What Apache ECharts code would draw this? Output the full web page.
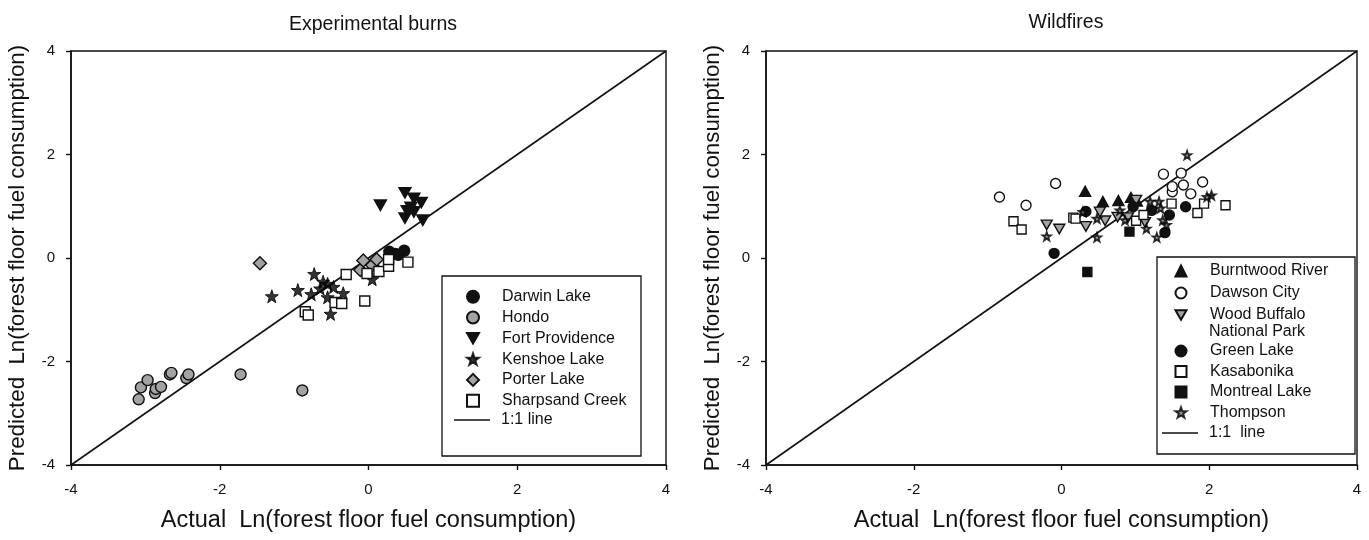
<!DOCTYPE html>
<html>
<head>
<meta charset="utf-8">
<script src="https://cdn.jsdelivr.net/npm/echarts@6/dist/echarts.min.js"></script>
<style>html,body{margin:0;padding:0;background:#fff}#c{width:1369px;height:540px}</style>
</head>
<body>
<div id="c"></div>
<script>
// ---- Data: Experimental burns (actual, predicted) ----
var darwinLake = [[0.28,0.12],[0.36,0.08],[0.40,0.06],[0.48,0.14]];
var hondo = [[-3.09,-2.73],[-3.06,-2.50],[-2.97,-2.36],[-2.87,-2.61],[-2.86,-2.53],[-2.79,-2.49],[-2.67,-2.25],[-2.65,-2.22],[-2.45,-2.32],[-2.42,-2.25],[-1.72,-2.25],[-0.89,-2.56]];
var fortProvidence = [[0.16,1.02],[0.49,1.26],[0.61,1.15],[0.71,1.07],[0.52,0.91],[0.61,0.89],[0.49,0.77],[0.73,0.73],[0.57,0.98]];
var kenshoeLake = [[-1.30,-0.74],[-0.95,-0.62],[-0.73,-0.31],[-0.77,-0.70],[-0.61,-0.46],[-0.65,-0.59],[-0.47,-0.56],[-0.55,-0.76],[-0.34,-0.68],[-0.51,-1.08],[0.05,-0.41],[-0.55,-0.50]];
var porterLake = [[-1.46,-0.10],[-0.11,-0.23],[-0.07,-0.05],[0.05,-0.14],[0.11,-0.03]];
var sharpsandCreek = [[-0.85,-1.04],[-0.81,-1.10],[-0.45,-0.86],[-0.36,-0.88],[-0.05,-0.83],[-0.30,-0.32],[-0.02,-0.30],[0.14,-0.26],[0.27,-0.16],[0.27,-0.03],[0.53,-0.08]];
// ---- Data: Wildfires ----
var burntwoodRiver = [[0.32,1.29],[0.56,1.09],[0.77,1.11],[0.94,1.17],[1.02,1.10]];
var dawsonCity = [[-0.84,1.18],[-0.48,1.02],[-0.08,1.44],[1.38,1.62],[1.62,1.64],[1.50,1.28],[1.65,1.41],[1.75,1.24],[1.91,1.47],[1.50,1.38]];
var woodBuffalo = [[-0.20,0.64],[-0.03,0.56],[0.33,0.61],[0.52,0.89],[0.59,0.72],[0.76,0.79],[1.01,1.12],[0.90,0.78],[1.13,0.69]];
var greenLake = [[-0.10,0.09],[0.33,0.90],[0.97,0.99],[1.22,0.92],[1.46,0.83],[1.40,0.49],[1.68,0.99]];
var kasabonika = [[-0.65,0.71],[-0.54,0.55],[0.16,0.78],[0.19,0.76],[1.01,0.72],[1.11,0.83],[1.49,1.05],[1.84,0.87],[1.93,1.05],[2.22,1.02]];
var montrealLake = [[0.92,0.51],[0.35,-0.27]];
var thompson = [[-0.20,0.42],[0.48,0.40],[1.15,0.57],[1.29,0.40],[1.70,1.99],[2.03,1.21],[0.29,0.89],[0.48,0.76],[0.79,0.92],[0.86,0.73],[1.20,1.09],[1.32,1.09],[1.37,0.73],[1.42,0.64],[1.97,1.18],[1.34,0.96]];
// ---- 1:1 line and axis ticks ----
var oneToOne = [[-4,-4],[4,4]];
var axisMin = -4, axisMax = 4, axisStep = 2;
var titles = ['Experimental burns', 'Wildfires'];
var xName = 'Actual  Ln(forest floor fuel consumption)';
var yName = 'Predicted  Ln(forest floor fuel consumption)';
var wbName = 'Wood Buffalo National Park';
var wbLines = ['Wood Buffalo', 'National Park'];

var FONT = 'Liberation Sans, Arial, Helvetica, sans-serif';
var STAR = 'path://M0,-10 L2.35,-3.24 L9.51,-3.09 L3.80,1.24 L5.88,8.09 L0,4.2 L-5.88,8.09 L-3.80,1.24 L-9.51,-3.09 L-2.35,-3.24 Z';
var DOWN = 'path://M0,0 L12,0 L6,10.4 Z';
var LINE_ICON = 'path://M0,0 M0,5.3 L36,5.3 L36,6.7 L0,6.7 Z M36,12';
var GRAY = '#a3a3a3', INK = '#111';

function axisX(idx) {
  return {
    type: 'value', gridIndex: idx, min: axisMin, max: axisMax, interval: axisStep,
    name: xName, nameLocation: 'middle', nameGap: 44,
    nameTextStyle: { fontFamily: FONT, fontSize: 23.5, color: INK },
    axisLine: { onZero: false, lineStyle: { color: INK, width: 1.6 } },
    axisTick: { inside: false, length: 5, lineStyle: { color: INK, width: 1.4 } },
    axisLabel: { fontFamily: FONT, fontSize: 15, color: INK, margin: 17 },
    splitLine: { show: false }
  };
}
function axisY(idx) {
  return {
    type: 'value', gridIndex: idx, min: axisMin, max: axisMax, interval: axisStep,
    name: yName, nameLocation: 'middle', nameGap: 42,
    nameTextStyle: { fontFamily: FONT, fontSize: 22.3, color: INK },
    axisLine: { onZero: false, lineStyle: { color: INK, width: 1.6 } },
    axisTick: { inside: false, length: 5, lineStyle: { color: INK, width: 1.4 } },
    axisLabel: { fontFamily: FONT, fontSize: 15, color: INK, margin: 16 },
    splitLine: { show: false }
  };
}
function sc(name, data, idx, symbol, size, fill, opts) {
  var s = {
    type: 'scatter', name: name, data: data, xAxisIndex: idx, yAxisIndex: idx,
    symbol: symbol, symbolSize: size,
    itemStyle: { color: fill, borderColor: INK, borderWidth: 1.4, opacity: 1 },
    emphasis: { disabled: true }, z: 3
  };
  if (opts) for (var k in opts) s[k] = opts[k];
  return s;
}
function line11(name, idx) {
  return {
    type: 'line', name: name, data: oneToOne, xAxisIndex: idx, yAxisIndex: idx,
    symbol: 'none', lineStyle: { color: INK, width: 1.6 }, itemStyle: { color: INK },
    emphasis: { disabled: true }, z: 2, silent: true
  };
}
function lg(opts, data) {
  var o = {
    orient: 'vertical', padding: 0, z: 10, selectedMode: false,
    textStyle: { fontFamily: FONT, fontSize: 16, color: INK },
    data: data,
    formatter: function (n) { return n === wbName ? wbLines[0] : n; }
  };
  for (var k in opts) {
    if (k === 'textStyle') { for (var t in opts.textStyle) o.textStyle[t] = opts.textStyle[t]; }
    else o[k] = opts[k];
  }
  return o;
}

var chart = echarts.init(document.getElementById('c'), null, { renderer: 'canvas' });
chart.setOption({
  animation: false,
  backgroundColor: '#fff',
  title: [
    { text: titles[0], left: 368, top: 10, textAlign: 'center', textStyle: { fontFamily: FONT, fontSize: 19.5, fontWeight: 'normal', color: INK } },
    { text: titles[1], left: 1061, top: 8, textAlign: 'center', textStyle: { fontFamily: FONT, fontSize: 19.5, fontWeight: 'normal', color: INK } }
  ],
  grid: [
    { left: 71, top: 51, width: 595, height: 414, show: true, borderColor: INK, borderWidth: 1.4, backgroundColor: 'transparent' },
    { left: 766, top: 51, width: 591, height: 414, show: true, borderColor: INK, borderWidth: 1.4, backgroundColor: 'transparent' }
  ],
  xAxis: [axisX(0), axisX(1)],
  yAxis: [axisY(0), axisY(1)],
  graphic: [
    { type: 'rect', shape: { x: 442, y: 276, width: 199, height: 180 }, style: { fill: '#fff', stroke: INK, lineWidth: 1.3 }, z: 5 },
    { type: 'rect', shape: { x: 1157, y: 257, width: 198, height: 197 }, style: { fill: '#fff', stroke: INK, lineWidth: 1.3 }, z: 5 },
    { type: 'text', left: 1209, top: 324, z: 11, style: { text: wbLines[1], font: '16px ' + FONT, fill: INK } }
  ],
  legend: [
    lg({ left: 466, top: 288.7, itemGap: 4.8, itemWidth: 12, itemHeight: 12, textStyle: { lineHeight: 16, padding: [0, 0, 0, 18] } },
       ['Darwin Lake', 'Hondo', 'Fort Providence', 'Kenshoe Lake', 'Porter Lake', 'Sharpsand Creek']),
    lg({ left: 454, top: 412, itemWidth: 36, itemHeight: 12, icon: LINE_ICON, textStyle: { lineHeight: 16, padding: [0, 0, 0, 6] } },
       ['1:1 line']),
    lg({ left: 1174.5, top: 262, itemGap: 4, itemWidth: 11, itemHeight: 11, textStyle: { lineHeight: 18, padding: [0, 0, 0, 18.5] } },
       ['Burntwood River', 'Dawson City', wbName]),
    lg({ left: 1174.5, top: 342, itemGap: 2.5, itemWidth: 11, itemHeight: 11, textStyle: { lineHeight: 18, padding: [0, 0, 0, 18.5] } },
       ['Green Lake', 'Kasabonika', 'Montreal Lake', 'Thompson']),
    lg({ left: 1162, top: 424, itemWidth: 36, itemHeight: 12, icon: LINE_ICON, textStyle: { lineHeight: 18, padding: [0, 0, 0, 6] } },
       ['1:1  line'])
  ],
  series: [
    line11('1:1 line', 0),
    sc('Darwin Lake', darwinLake, 0, 'circle', 11, INK),
    sc('Hondo', hondo, 0, 'circle', 11, GRAY),
    sc('Fort Providence', fortProvidence, 0, DOWN, [12, 10.5], INK),
    sc('Kenshoe Lake', kenshoeLake, 0, STAR, 13, '#000', { itemStyle: { color: '#000', borderColor: '#000', borderWidth: 1 } }),
    sc('Porter Lake', porterLake, 0, 'diamond', 13, GRAY),
    sc('Sharpsand Creek', sharpsandCreek, 0, 'rect', 10, '#fff'),
    line11('1:1  line', 1),
    sc('Burntwood River', burntwoodRiver, 1, 'triangle', [11, 10], INK),
    sc('Dawson City', dawsonCity, 1, 'circle', 10, '#fff'),
    sc(wbName, woodBuffalo, 1, DOWN, [11, 9.5], GRAY),
    sc('Green Lake', greenLake, 1, 'circle', 10, INK),
    sc('Kasabonika', kasabonika, 1, 'rect', 9, '#fff'),
    sc('Montreal Lake', montrealLake, 1, 'rect', 9, INK),
    sc('Thompson', thompson, 1, STAR, 8.5, '#777', { itemStyle: { color: '#777', borderColor: '#000', borderWidth: 1.8 } })
  ]
});
</script>
</body>
</html>
